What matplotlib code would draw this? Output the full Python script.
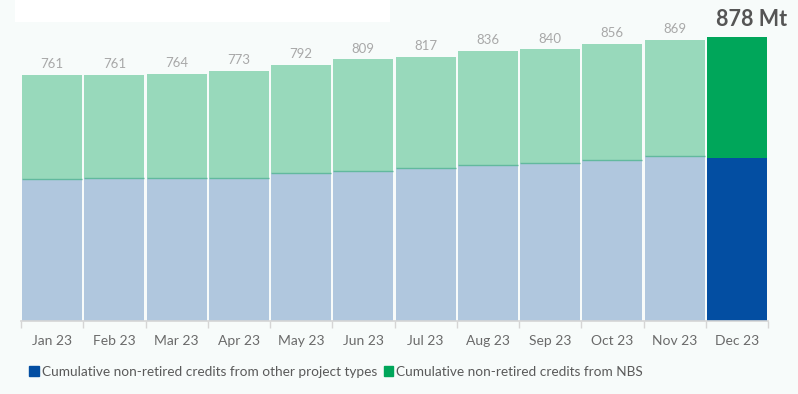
import matplotlib
matplotlib.use("Agg")
import matplotlib.pyplot as plt
from matplotlib.patches import Rectangle

months = ["Jan 23", "Feb 23", "Mar 23", "Apr 23", "May 23", "Jun 23",
          "Jul 23", "Aug 23", "Sep 23", "Oct 23", "Nov 23", "Dec 23"]
totals = [761, 761, 764, 773, 792, 809, 817, 836, 840, 856, 869, 878]
other_types = [438, 441, 443, 441, 457, 463, 472, 481, 488, 497, 509, 504]
nbs = [t - o for t, o in zip(totals, other_types)]

plt.rcParams['font.family'] = ['Lato', 'DejaVu Sans']

bg = '#f7fbfa'
fig = plt.figure(figsize=(7.98, 3.94), dpi=100, facecolor=bg)
ax = fig.add_axes([21/798, 1-321/394, 747/798, 291/394])
ax.set_facecolor('none')

# white box in top-left corner
fig.patches.append(Rectangle((15/798, 1-22/394), 375/798, 22/394,
                             transform=fig.transFigure, facecolor='white',
                             edgecolor='none', zorder=0))

x = list(range(len(months)))
w = 0.965
light_blue, light_green = '#b0c7de', '#98d9bb'
dark_blue, dark_green = '#034ea2', '#00a65a'
blue_cols = [light_blue] * 11 + [dark_blue]
green_cols = [light_green] * 11 + [dark_green]

ax.bar(x, other_types, width=w, color=blue_cols, linewidth=0)
ax.bar(x, nbs, width=w, bottom=other_types, color=green_cols, linewidth=0)
for i in range(11):
    ax.hlines(other_types[i], i - w/2, i + w/2, color='#62b99e', lw=1.0, zorder=3)

for i, t in enumerate(totals):
    if i < 11:
        ax.text(i, t + 15, str(t), ha='center', va='bottom', fontsize=9.5,
                color='#a8a8a8')
    else:
        ax.text(i + 0.24, t + 22, f"{t} Mt", ha='center', va='bottom', fontsize=15.5,
                color='#555555', fontweight='bold')

ax.set_xlim(-0.5, 11.5)
ax.set_ylim(0, 900)
ax.set_yticks([])
ax.set_xticks(x)
ax.set_xticklabels(months, fontsize=10, color='#6a6a6a')
ax.set_xticks([i - 0.5 for i in range(13)], minor=True)
ax.tick_params(axis='x', which='major', length=0, pad=10)
ax.tick_params(axis='x', which='minor', length=5, color='#d5d5d5', width=1)
for s in ['top', 'right', 'left']:
    ax.spines[s].set_visible(False)
ax.spines['bottom'].set_color('#d5d5d5')
ax.spines['bottom'].set_linewidth(1.2)

handles = [Rectangle((0, 0), 1, 1, color=dark_blue), Rectangle((0, 0), 1, 1, color=dark_green)]
labels = ["Cumulative non-retired credits from other project types",
          "Cumulative non-retired credits from NBS"]
fig.legend(handles, labels, loc='center left', bbox_to_anchor=(17/798, 1-372/394),
           ncol=2, frameon=False, handlelength=0.7, handleheight=0.7,
           handletextpad=0.2, columnspacing=0.5, labelcolor='#5a5a5a',
           prop={'size': 9.8})

fig.savefig("out.png", dpi=100, facecolor=bg)
